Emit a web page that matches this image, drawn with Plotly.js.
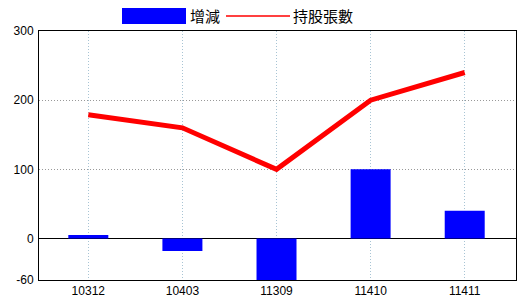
<!DOCTYPE html>
<html>
<head>
<meta charset="utf-8">
<script src="https://cdn.plot.ly/plotly-3.0.1.min.js"></script>
<style>html,body{margin:0;padding:0;background:#fff;}#chart{width:520px;height:300px;}</style>
</head>
<body>
<div id="chart"></div>
<script>
const categories = ['10312', '10403', '11309', '11410', '11411'];
const changeValues = [5, -18, -60, 100, 40];
const holdingValues = [179, 160, 100, 200, 240];
const yTickVals = [-60, 0, 100, 200, 300];
const yTickText = ['-60', '0', '100', '200', '300'];
const legendNames = ['增減', '持股張數'];

const traces = [
  {
    type: 'bar', x: categories, y: changeValues, name: legendNames[0],
    marker: {color: '#0000ff', line: {width: 0}}, width: 0.425, showlegend: false
  },
  {
    type: 'scatter', mode: 'lines', x: categories, y: holdingValues, name: legendNames[1],
    line: {color: '#ff0000', width: 5}, showlegend: false
  }
];

const layout = {
  width: 520, height: 300,
  margin: {l: 39, r: 4, t: 31, b: 20},
  paper_bgcolor: '#ffffff', plot_bgcolor: '#ffffff',
  font: {family: 'Liberation Sans, Arial, sans-serif', size: 12, color: '#000'},
  xaxis: {
    type: 'category', range: [-0.524, 4.545],
    showgrid: true, gridcolor: '#a8c4d4', griddash: '1px,2px', gridwidth: 1,
    showline: true, mirror: true, linecolor: '#000', linewidth: 1,
    ticks: '', tickfont: {size: 12}, zeroline: false, fixedrange: true
  },
  yaxis: {
    range: [-60, 300], tickvals: yTickVals, ticktext: yTickText,
    showgrid: true, gridcolor: '#999999', griddash: '1px,2px', gridwidth: 1,
    zeroline: true, zerolinecolor: '#000', zerolinewidth: 1.5,
    showline: true, mirror: true, linecolor: '#000', linewidth: 1,
    ticks: '', tickfont: {size: 12}, ticklabelstandoff: 2, fixedrange: true
  },
  shapes: [
    {type: 'rect', xref: 'paper', yref: 'paper', x0: (122-39)/477, x1: (186-39)/477,
     y0: (280-24)/249, y1: (280-8)/249, fillcolor: '#0000ff', line: {width: 0}},
    {type: 'line', xref: 'paper', yref: 'paper', x0: (226-39)/477, x1: (290-39)/477,
     y0: (280-16)/249, y1: (280-16)/249, line: {color: '#ff0000', width: 1.5}}
  ],
  annotations: [
    {xref: 'paper', yref: 'paper', x: (188-39)/477, y: (280-16)/249, xanchor: 'left', yanchor: 'middle',
     text: legendNames[0], showarrow: false, font: {family: 'Noto Sans CJK TC', size: 15, color: '#000'}},
    {xref: 'paper', yref: 'paper', x: (291-39)/477, y: (280-16)/249, xanchor: 'left', yanchor: 'middle',
     text: legendNames[1], showarrow: false, font: {family: 'Noto Sans CJK TC', size: 15, color: '#000'}}
  ]
};

Plotly.newPlot('chart', traces, layout, {displayModeBar: false, staticPlot: true});
</script>
</body>
</html>
